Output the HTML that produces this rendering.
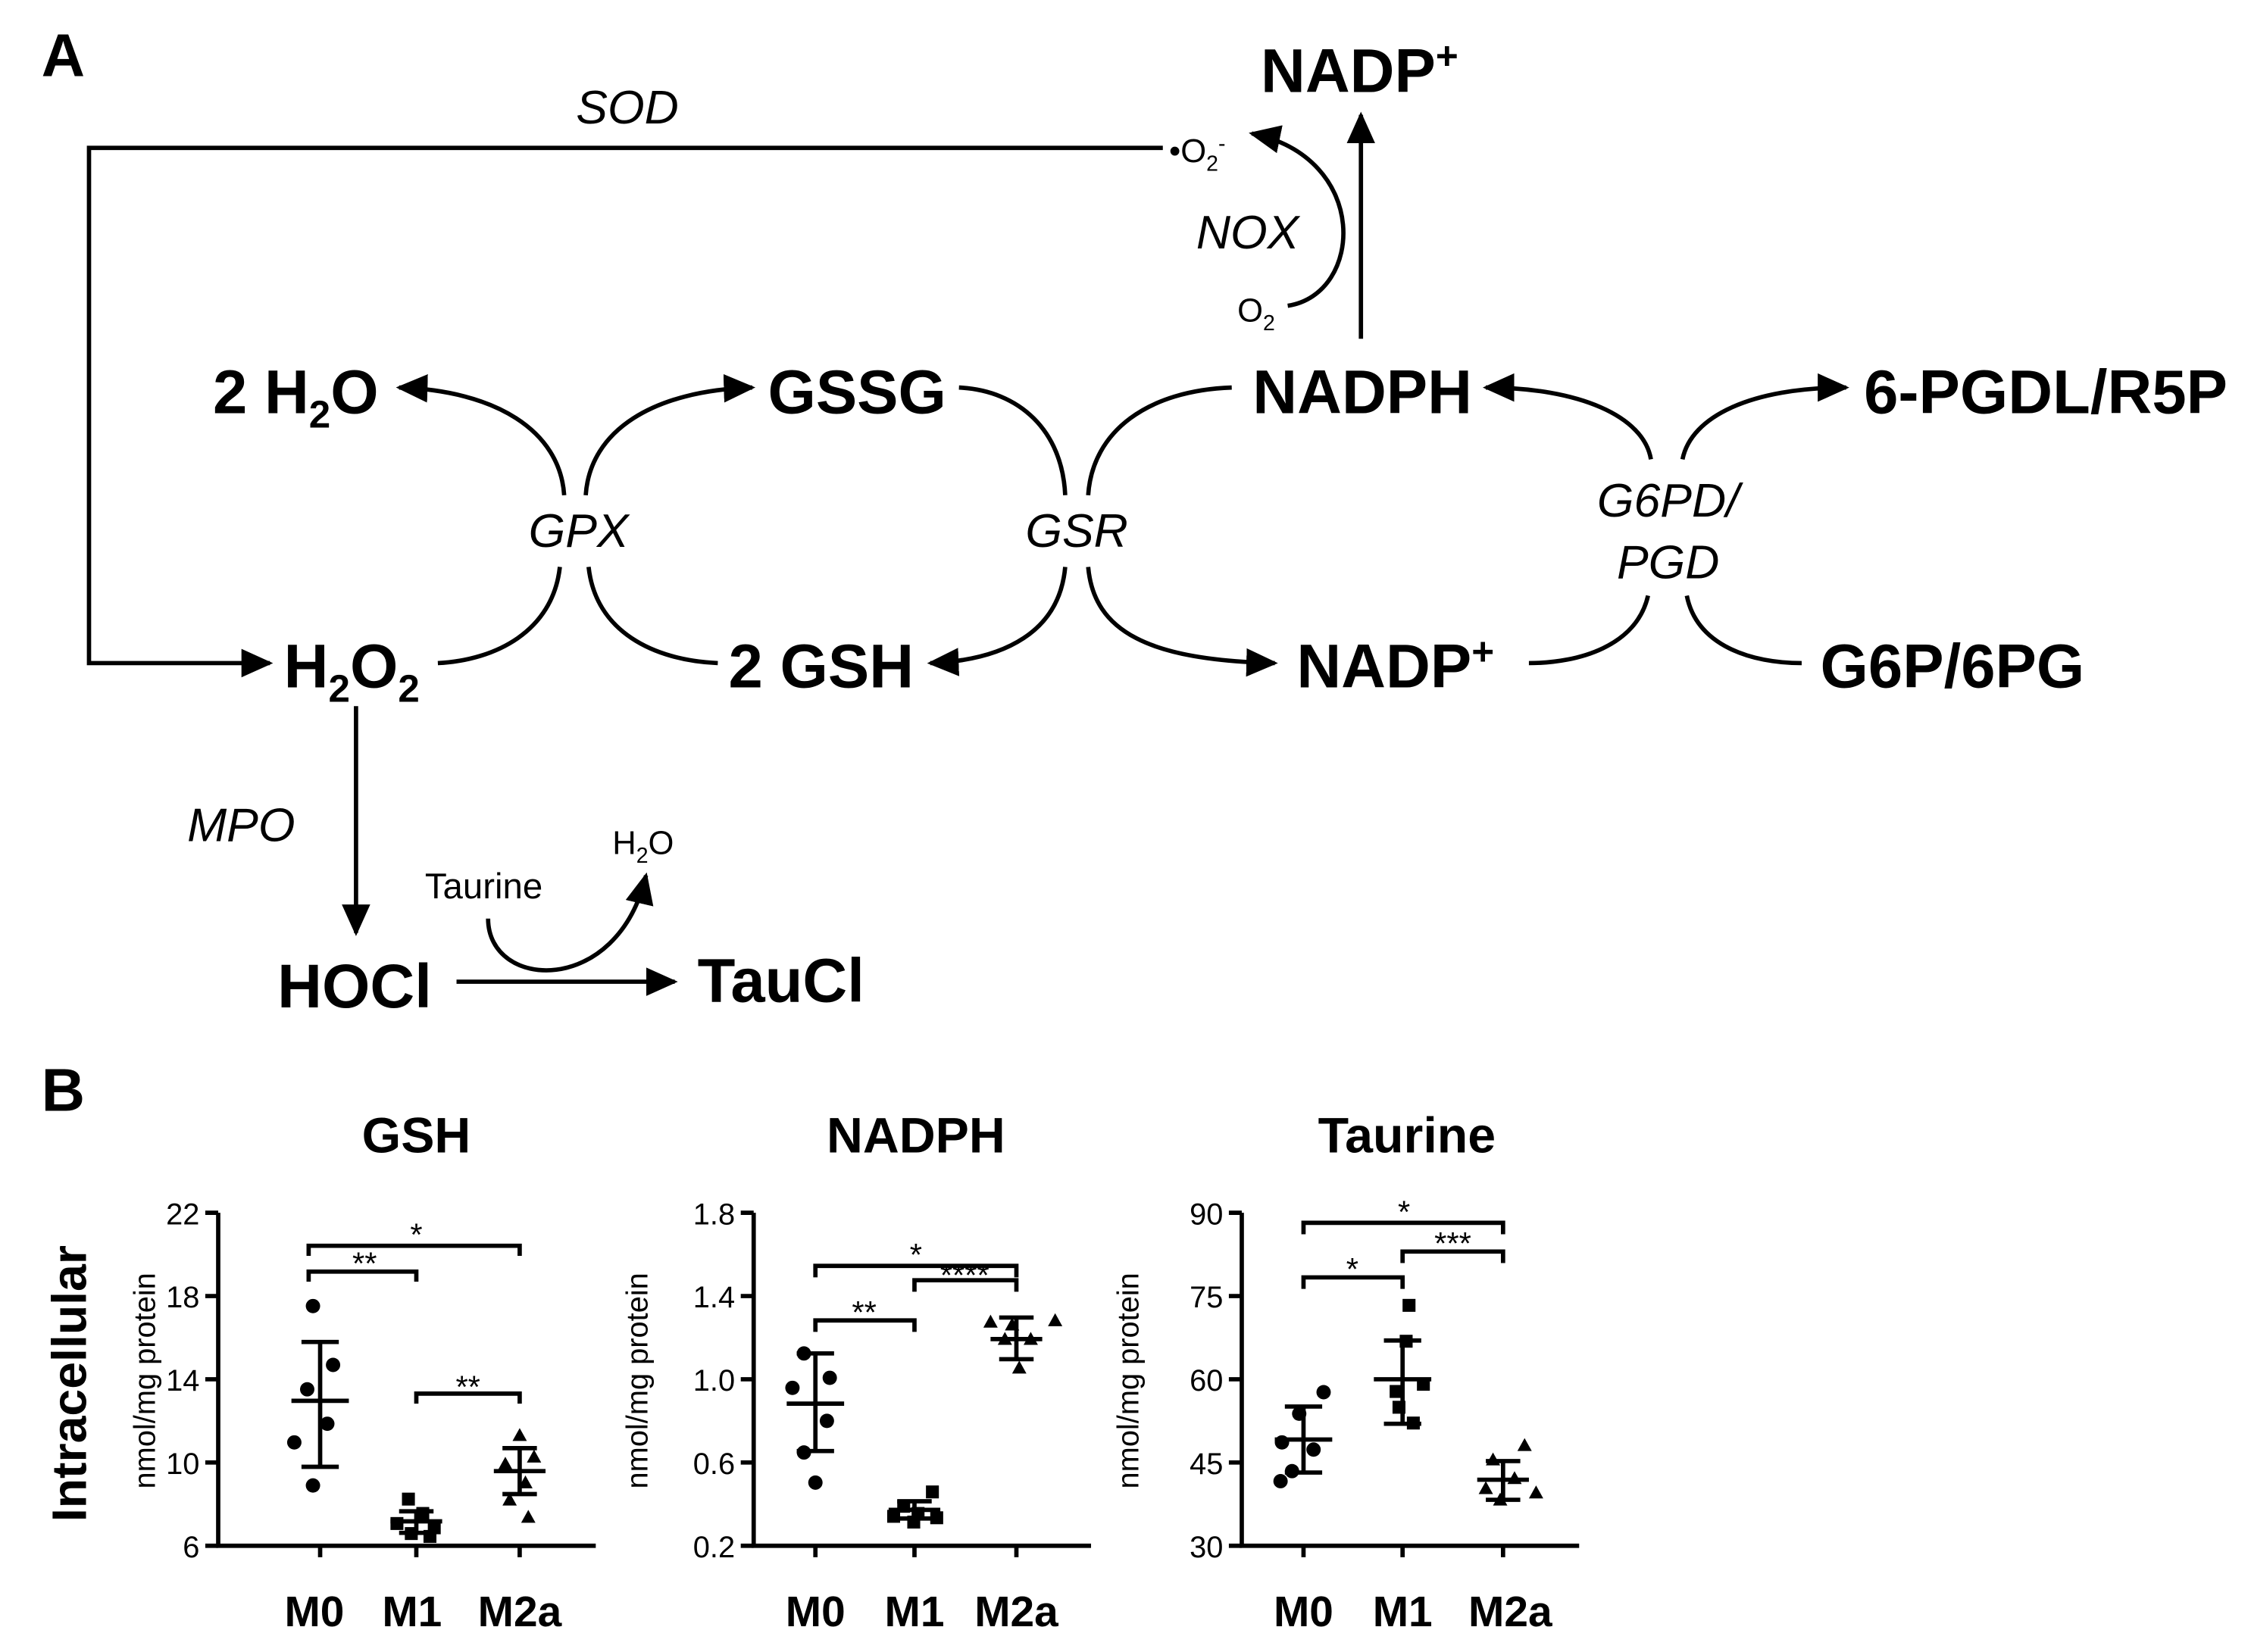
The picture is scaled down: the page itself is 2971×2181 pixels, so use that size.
<!DOCTYPE html>
<html><head><meta charset="utf-8"><style>html,body{margin:0;padding:0;background:#fff}svg{display:block}</style></head><body>
<svg width="2971" height="2181" viewBox="0 0 1568 1151" xmlns="http://www.w3.org/2000/svg" font-family="Liberation Sans, sans-serif">
<defs>
<marker id="ab" viewBox="0 0 10 10" refX="9" refY="5" markerWidth="22" markerHeight="22" markerUnits="userSpaceOnUse" orient="auto"><path d="M0,0.5L10,5L0,9.5z"/></marker>
</defs>
<g fill="none" stroke="#000" stroke-width="3">
<path d="M810,103H62V462H188" marker-end="url(#ab)"/>
<path d="M948,236V80" marker-end="url(#ab)"/>
<path d="M897,213C950,205 955,110 872,93" marker-end="url(#ab)"/>
<path d="M393,345C390,300 345,272 278,270" marker-end="url(#ab)"/>
<path d="M408,345C411,300 455,272 524,270" marker-end="url(#ab)"/>
<path d="M390,395C385,440 345,460 305,462"/>
<path d="M410,395C415,440 455,460 500,462"/>
<path d="M668,270C710,272 740,300 742,345"/>
<path d="M758,345C761,300 800,272 858,270"/>
<path d="M742,395C738,440 700,460 648,462" marker-end="url(#ab)"/>
<path d="M758,395C762,440 800,460 888,462" marker-end="url(#ab)"/>
<path d="M1150,320C1145,290 1100,270 1035,270" marker-end="url(#ab)"/>
<path d="M1172,320C1178,290 1220,270 1286,270" marker-end="url(#ab)"/>
<path d="M1148,415C1140,450 1100,462 1065,462"/>
<path d="M1175,415C1182,450 1220,462 1255,462"/>
<path d="M248,492V650" marker-end="url(#ab)"/>
<path d="M318,684H470" marker-end="url(#ab)"/>
<path d="M340,640C340,690 430,695 450,610" marker-end="url(#ab)"/>
</g>
<g font-weight="bold" font-size="43" text-anchor="middle">
<text x="44" y="53" font-size="42">A</text>
<text x="947" y="64">NADP<tspan font-size="27" dy="-16">+</tspan></text>
<text x="206" y="288">2 H<tspan font-size="27" dy="10">2</tspan><tspan dy="-10">O</tspan></text>
<text x="597" y="288">GSSG</text>
<text x="949" y="288">NADPH</text>
<text x="1425" y="288">6-PGDL/R5P</text>
<text x="245" y="479">H<tspan font-size="27" dy="10">2</tspan><tspan dy="-10">O</tspan><tspan font-size="27" dy="10">2</tspan></text>
<text x="572" y="479">2 GSH</text>
<text x="972" y="479">NADP<tspan font-size="27" dy="-16">+</tspan></text>
<text x="1360" y="479">G6P/6PG</text>
<text x="247" y="702">HOCl</text>
<text x="544" y="698">TauCl</text>
</g>
<g font-style="italic" font-size="33" text-anchor="middle">
<text x="437" y="86">SOD</text>
<text x="869" y="173">NOX</text>
<text x="403" y="381">GPX</text>
<text x="750" y="381">GSR</text>
<text x="1162" y="360">G6PD/</text>
<text x="1162" y="403">PGD</text>
<text x="168" y="586">MPO</text>
</g>
<g font-size="23" text-anchor="middle">
<text x="834" y="113">•O<tspan font-size="15" dy="6">2</tspan><tspan font-size="15" dy="-14">-</tspan></text>
<text x="875" y="224">O<tspan font-size="15" dy="6">2</tspan></text>
<text x="337" y="626" font-size="25">Taurine</text>
<text x="448" y="595">H<tspan font-size="15" dy="6">2</tspan><tspan dy="-6">O</tspan></text>
</g>
<g font-weight="bold" text-anchor="middle">
<text x="44" y="774" font-size="42">B</text>
<text x="290" y="803" font-size="35">GSH</text>
<text x="638" y="803" font-size="35">NADPH</text>
<text x="980" y="803" font-size="35">Taurine</text>
<text transform="translate(60,964) rotate(-90)" font-size="34">Intracellular</text>
</g>
<g stroke="#000" stroke-width="3" fill="none">
<path d="M152,845V1077H415"/><path d="M525,845V1077H760"/><path d="M865,845V1077H1100"/>
<path d="M143,845h9M143,903h9M143,961h9M143,1019h9M143,1077h9M516,845h9M516,903h9M516,961h9M516,1019h9M516,1077h9M856,845h9M856,903h9M856,961h9M856,1019h9M856,1077h9"/>
<path d="M223,1077v8M290,1077v8M362,1077v8M568,1077v8M637,1077v8M708,1077v8M908,1077v8M977,1077v8M1047,1077v8"/>
<path d="M215,875V868H362V875M215,893V886H290V893M290,978V971H362V978"/>
<path d="M568,890V882H708V890M637,900V892H708V900M568,928V920H637V928"/>
<path d="M908,860V852H1047V860M977,880V872H1047V880M908,898V890H977V898"/>
<path d="M203,976H243M210,935H236M210,1022H236M223,935V1022"/>
<path d="M272,1060H308M278,1053H302M278,1068H302M290,1053V1068"/>
<path d="M344,1025H380M350,1009H374M350,1041H374M362,1009V1041"/>
<path d="M548,978H588M555,943H581M555,1011H581M568,943V1011"/>
<path d="M619,1052H655M625,1046H649M625,1058H649M637,1046V1058"/>
<path d="M690,933H726M696,918H720M696,947H720M708,918V947"/>
<path d="M888,1003H928M895,980H921M895,1026H921M908,980V1026"/>
<path d="M957,961H997M964,934H990M964,992H990M977,934V992"/>
<path d="M1029,1031H1065M1035,1018H1059M1035,1045H1059M1047,1018V1045"/>
</g>
<g font-size="21" text-anchor="end">
<text x="139" y="853">22</text><text x="139" y="911">18</text><text x="139" y="969">14</text><text x="139" y="1027">10</text><text x="139" y="1085">6</text>
<text x="512" y="853">1.8</text><text x="512" y="911">1.4</text><text x="512" y="969">1.0</text><text x="512" y="1027">0.6</text><text x="512" y="1085">0.2</text>
<text x="852" y="853">90</text><text x="852" y="911">75</text><text x="852" y="969">60</text><text x="852" y="1027">45</text><text x="852" y="1085">30</text>
</g>
<g font-size="21" text-anchor="middle">
<text transform="translate(108,962) rotate(-90)">nmol/mg protein</text>
<text transform="translate(451,962) rotate(-90)">nmol/mg protein</text>
<text transform="translate(793,962) rotate(-90)">nmol/mg protein</text>
</g>
<g font-size="22" text-anchor="middle">
<text x="290" y="868">*</text><text x="254" y="888">**</text><text x="326" y="974">**</text>
<text x="638" y="882">*</text><text x="672" y="896">****</text><text x="602" y="922">**</text>
<text x="978" y="852">*</text><text x="1012" y="874">***</text><text x="942" y="892">*</text>
</g>
<g font-size="30" font-weight="bold" text-anchor="middle">
<text x="219" y="1133">M0</text><text x="287" y="1133">M1</text><text x="362" y="1133">M2a</text>
<text x="568" y="1133">M0</text><text x="637" y="1133">M1</text><text x="708" y="1133">M2a</text>
<text x="908" y="1133">M0</text><text x="977" y="1133">M1</text><text x="1052" y="1133">M2a</text>
</g>
<g fill="#000">
<circle cx="218" cy="910" r="5"/><circle cx="232" cy="951" r="5"/><circle cx="214" cy="968" r="5"/><circle cx="228" cy="992" r="5"/><circle cx="205" cy="1005" r="5"/><circle cx="218" cy="1035" r="5"/>
<rect x="280" y="1040" width="9" height="9"/><rect x="290" y="1050" width="9" height="9"/><rect x="272" y="1057" width="9" height="9"/><rect x="298" y="1060" width="9" height="9"/><rect x="282" y="1064" width="9" height="9"/><rect x="295" y="1066" width="9" height="9"/>
<path d="M362,995l5,9h-10zM372,1010l5,9h-10zM352,1015l5,9h-10zM366,1028l5,9h-10zM355,1040l5,9h-10zM368,1052l5,9h-10z"/>
<circle cx="560" cy="943" r="5"/><circle cx="578" cy="960" r="5"/><circle cx="552" cy="967" r="5"/><circle cx="576" cy="990" r="5"/><circle cx="560" cy="1012" r="5"/><circle cx="568" cy="1033" r="5"/>
<rect x="645" y="1035" width="9" height="9"/><rect x="625" y="1045" width="9" height="9"/><rect x="635" y="1050" width="9" height="9"/><rect x="618" y="1052" width="9" height="9"/><rect x="648" y="1053" width="9" height="9"/><rect x="632" y="1056" width="9" height="9"/>
<path d="M690,916l5,9h-10zM705,918l5,9h-10zM735,915l5,9h-10zM700,928l5,9h-10zM718,928l5,9h-10zM710,948l5,9h-10z"/>
<circle cx="922" cy="970" r="5"/><circle cx="905" cy="985" r="5"/><circle cx="893" cy="1005" r="5"/><circle cx="915" cy="1010" r="5"/><circle cx="900" cy="1025" r="5"/><circle cx="892" cy="1032" r="5"/>
<rect x="977" y="905" width="9" height="9"/><rect x="975" y="930" width="9" height="9"/><rect x="987" y="960" width="9" height="9"/><rect x="968" y="965" width="9" height="9"/><rect x="970" y="976" width="9" height="9"/><rect x="980" y="987" width="9" height="9"/>
<path d="M1062,1002l5,9h-10zM1040,1012l5,9h-10zM1055,1025l5,9h-10zM1035,1032l5,9h-10zM1070,1035l5,9h-10zM1045,1040l5,9h-10z"/>
</g>
</svg>
</body></html>
